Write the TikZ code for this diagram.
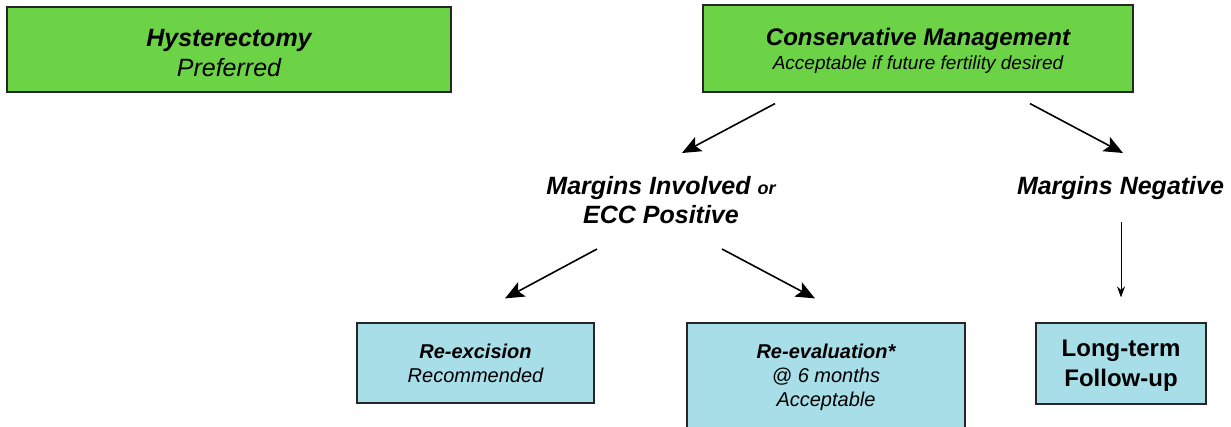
\documentclass[tikz,border=0pt]{standalone}
\usepackage{fontspec}
\setmainfont{Liberation Sans}
\usetikzlibrary{arrows.meta}
\definecolor{boxgreen}{RGB}{109,211,70}
\definecolor{boxblue}{RGB}{168,222,232}

\begin{document}
\begin{tikzpicture}[x=1pt,y=-1pt,
	greenbox/.style={draw=black!85,line width=1.2pt,fill=boxgreen,align=center,inner sep=0pt},
	bluebox/.style={draw=black!85,line width=1.2pt,fill=boxblue,align=center,inner sep=0pt},
	branch/.style={align=center,inner sep=0pt,font=\bfseries\itshape\fontsize{25}{29}\selectfont},
	bigarrow/.style={line width=1.6pt,-{Stealth[length=19pt,width=16pt,inset=4pt]}},
	smallarrow/.style={line width=1pt,-{Stealth[length=11pt,width=8pt]}}]
	\clip (0,0) rectangle (1231,426); % page size
	
	% top row
	\node[greenbox,minimum width=444pt,minimum height=85pt,text height=55pt,font=\itshape\fontsize{25}{30}\selectfont] (hyst) at (229,49.5) {{\bfseries Hysterectomy}\\ Preferred};
	\node[greenbox,minimum width=430pt,minimum height=87pt,text height=46pt,font=\itshape\fontsize{19}{24}\selectfont] (cons) at (918,48.5) {{\fontsize{24}{24}\selectfont\bfseries Conservative Management}\\ Acceptable if future fertility desired};
	
	% middle row
	\node[branch] (inv) at (661,200.5) {Margins Involved {\fontsize{18}{29}\selectfont or}\\ ECC Positive};
	\node[branch] (neg) at (1120.5,188.5) {Margins Negative};
	
	% bottom row
	\node[bluebox,minimum width=237pt,minimum height=80pt,font=\itshape\fontsize{20}{24}\selectfont] (rex) at (475.5,363) {{\bfseries Re-excision}\\ Recommended};
	\node[bluebox,minimum width=278pt,minimum height=108pt,font=\itshape\fontsize{20}{24}\selectfont] (rev) at (826,377) {{\bfseries Re-evaluation*}\\ @ 6 months\\ Acceptable};
	\node[bluebox,minimum width=170pt,minimum height=81pt,text height=50.5pt,font=\bfseries\fontsize{24}{30}\selectfont] (ltf) at (1121,363.5) {Long-term\\ Follow-up};
	
	\draw[bigarrow] ([shift={(-143pt,-11pt)}]cons.south) -- ([shift={(21pt,47.5pt)}]inv.center);
	\draw[bigarrow] ([shift={(112pt,-11pt)}]cons.south) -- ([shift={(2.5pt,35.5pt)}]neg.center);
	\draw[bigarrow] ([shift={(-64pt,-48.5pt)}]inv.center) -- ([shift={(29.5pt,24pt)}]rex.north);
	\draw[bigarrow] ([shift={(61pt,-48.5pt)}]inv.center) -- ([shift={(-11pt,24pt)}]rev.north);
	\draw[smallarrow] ([shift={(0.5pt,-33.5pt)}]neg.center) -- ([shift={(0pt,25pt)}]ltf.north);
\end{tikzpicture}
\end{document}
